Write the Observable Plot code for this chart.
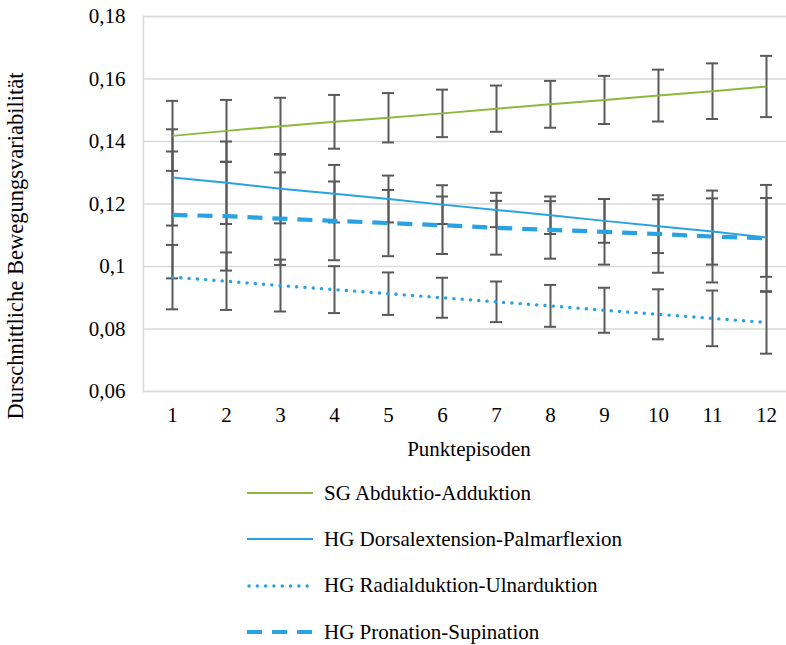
<!DOCTYPE html>
<html>
<head>
<meta charset="utf-8">
<script src="https://cdn.jsdelivr.net/npm/d3@7"></script>
<script src="https://cdn.jsdelivr.net/npm/@observablehq/plot@0.6"></script>
<style>
  html, body { margin: 0; padding: 0; background: #fff; overflow: hidden; }
  #chart svg { display: block; }
  .legend { font-family: "Liberation Serif", "Times New Roman", serif; font-size: 21px; color: #000; padding-top: 2px; padding-left: 247px; }
  .legend .row { height: 46.3px; display: flex; align-items: center; }
  .legend .row svg { display: block; margin-right: 11px; }
</style>
</head>
<body>
<div id="chart"></div>
<div class="legend" id="legend"></div>
<script>
const episodes = [1, 2, 3, 4, 5, 6, 7, 8, 9, 10, 11, 12];
const seriesNames = ["SG Abduktio-Adduktion", "HG Dorsalextension-Palmarflexion", "HG Radialduktion-Ulnarduktion", "HG Pronation-Supination"];
const sgMean = [0.1418, 0.1434, 0.1449, 0.1463, 0.1476, 0.1490, 0.1505, 0.1519, 0.1533, 0.1547, 0.1561, 0.1576];
const sgErr  = [0.0112, 0.0099, 0.0091, 0.0086, 0.0079, 0.0076, 0.0074, 0.0075, 0.0077, 0.0083, 0.0089, 0.0098];
const dpMean = [0.1285, 0.1268, 0.1249, 0.1233, 0.1216, 0.1198, 0.1181, 0.1164, 0.1146, 0.1129, 0.1112, 0.1093];
const dpErr  = [0.0154, 0.0132, 0.0111, 0.0092, 0.0075, 0.0062, 0.0055, 0.0060, 0.0070, 0.0086, 0.0106, 0.0126];
const ruMean = [0.0966, 0.0953, 0.0939, 0.0926, 0.0913, 0.0900, 0.0887, 0.0874, 0.0860, 0.0847, 0.0834, 0.0821];
const ruErr  = [0.0103, 0.0092, 0.0083, 0.0075, 0.0068, 0.0064, 0.0065, 0.0067, 0.0072, 0.0080, 0.0089, 0.0100];
const psMean = [0.1165, 0.1161, 0.1153, 0.1146, 0.1139, 0.1132, 0.1124, 0.1117, 0.1111, 0.1104, 0.1096, 0.1090];
const psErr  = [0.0203, 0.0174, 0.0148, 0.0126, 0.0106, 0.0092, 0.0086, 0.0092, 0.0105, 0.0124, 0.0147, 0.0171];
const yTicks = [0.06, 0.08, 0.10, 0.12, 0.14, 0.16, 0.18];

const green = "#8CB83C", blue = "#29A2E1";
const styles = [
  {stroke: green, strokeWidth: 2, dash: null, cap: "butt"},
  {stroke: blue, strokeWidth: 2, dash: null, cap: "butt"},
  {stroke: blue, strokeWidth: 3.4, dash: "0.1 8.2", cap: "round"},
  {stroke: blue, strokeWidth: 4.2, dash: "15 10", cap: "butt"}
];
const means = [sgMean, dpMean, ruMean, psMean];
const errs = [sgErr, dpErr, ruErr, psErr];
const rows = [];
seriesNames.forEach((s, i) => episodes.forEach((e, j) => rows.push({s, i, ep: e, m: means[i][j], lo: means[i][j] - errs[i][j], hi: means[i][j] + errs[i][j]})));

const font = "Liberation Serif, Times New Roman, serif";
const marks = [
  Plot.gridY(yTicks, {stroke: "#d9d9d9", strokeOpacity: 1, strokeWidth: 1.5}),
  Plot.frame({stroke: "#d9d9d9", strokeWidth: 1.5}),
  Plot.axisY(yTicks, {tickSize: 0, tickPadding: 18, fontSize: 21, fontFamily: font, fill: "#000", label: null, tickFormat: d => String(+d.toFixed(2)).replace(".", ",")}),
  Plot.axisX(episodes, {tickSize: 0, tickPadding: 16, fontSize: 21, fontFamily: font, fill: "#000", label: null}),
  Plot.ruleX(rows, {x: "ep", y1: "lo", y2: "hi", stroke: "#595959", strokeWidth: 2}),
  Plot.tickY(rows, {x: "ep", y: "lo", stroke: "#595959", strokeWidth: 2, insetLeft: 21, insetRight: 21}),
  Plot.tickY(rows, {x: "ep", y: "hi", stroke: "#595959", strokeWidth: 2, insetLeft: 21, insetRight: 21})
];
seriesNames.forEach((s, i) => {
  const st = styles[i];
  marks.push(Plot.line(rows.filter(r => r.i === i), {x: "ep", y: "m", stroke: st.stroke, strokeWidth: st.strokeWidth, strokeDasharray: st.dash, strokeLinecap: st.cap}));
});
marks.push(Plot.text(["Durschnittliche Bewegungsvariabilität"], {frameAnchor: "left", textAnchor: "middle", lineAnchor: "middle", dx: -128, dy: 42, rotate: -90, fontSize: 22.5, fontFamily: font, fill: "#000"}));
marks.push(Plot.text(["Punktepisoden"], {frameAnchor: "bottom", lineAnchor: "middle", dy: 58, fontSize: 21, fontFamily: font, fill: "#000"}));

const chart = Plot.plot({
  width: 786,
  height: 468,
  marginLeft: 143,
  marginRight: -8,
  marginTop: 16,
  marginBottom: 77,
  style: {background: "#fff", overflow: "hidden"},
  x: {type: "band", domain: episodes, padding: 0},
  y: {domain: [0.06, 0.18]},
  marks
});
document.getElementById("chart").appendChild(chart);

const legend = document.getElementById("legend");
seriesNames.forEach((s, i) => {
  const st = styles[i];
  const row = document.createElement("div");
  row.className = "row";
  const svg = d3.create("svg").attr("width", 66).attr("height", 10);
  svg.append("line").attr("x1", st.cap === "round" ? 2 : 0).attr("x2", 66).attr("y1", 5).attr("y2", 5)
    .attr("stroke", st.stroke).attr("stroke-width", st.strokeWidth)
    .attr("stroke-dasharray", st.dash).attr("stroke-linecap", st.cap);
  row.appendChild(svg.node());
  const span = document.createElement("span");
  span.textContent = s;
  row.appendChild(span);
  legend.appendChild(row);
});
</script>
</body>
</html>
